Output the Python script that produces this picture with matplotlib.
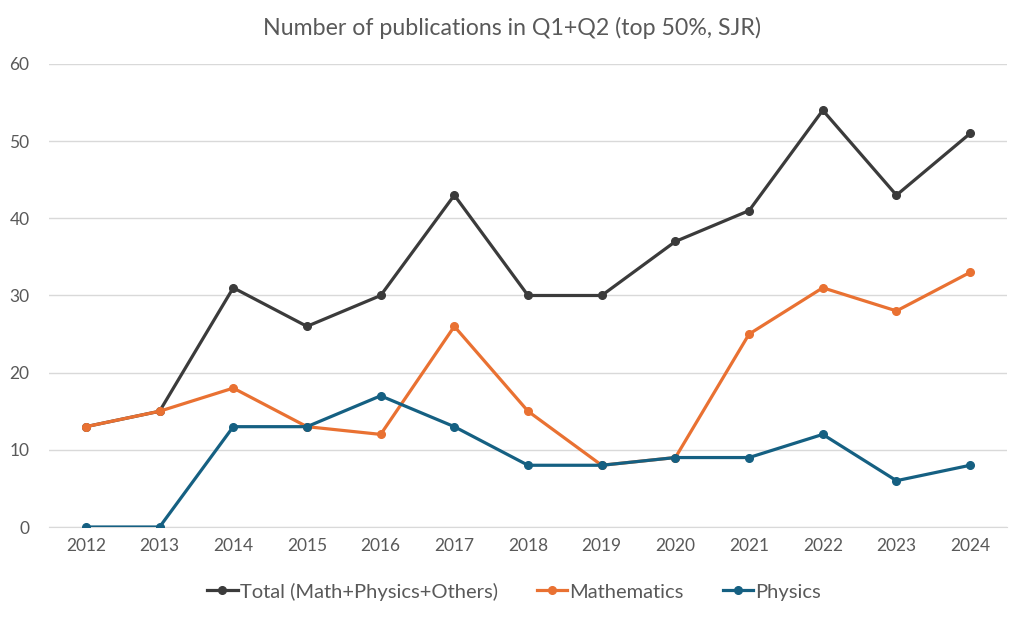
import matplotlib
matplotlib.use("Agg")
import matplotlib.pyplot as plt

years = [2012, 2013, 2014, 2015, 2016, 2017, 2018, 2019, 2020, 2021, 2022, 2023, 2024]
total = [13, 15, 31, 26, 30, 43, 30, 30, 37, 41, 54, 43, 51]
mathematics = [13, 15, 18, 13, 12, 26, 15, 8, 9, 25, 31, 28, 33]
physics = [0, 0, 13, 13, 17, 13, 8, 8, 9, 9, 12, 6, 8]
labels = ["Total (Math+Physics+Others)", "Mathematics", "Physics"]
title = "Number of publications in Q1+Q2 (top 50%, SJR)"

plt.rcParams['font.family'] = ['Lato', 'DejaVu Sans']

fig = plt.figure(figsize=(10.24, 6.2), dpi=100)
ax = fig.add_axes([0.0479, 0.15, 0.9355, 0.7468])

x = list(range(len(years)))
series = [(total, "#3b3b3b"), (mathematics, "#E97132"), (physics, "#156082")]
for (vals, col), lab in zip(series, labels):
    ax.plot(x, vals, color=col, lw=2.3, marker='o', markersize=5.5, label=lab,
            solid_joinstyle='round', zorder=3)

ax.set_xlim(-0.5, len(years) - 0.5)
ax.set_ylim(0, 60)
ax.set_yticks(range(0, 61, 10))
ax.set_xticks(x)
ax.set_xticklabels([str(y) for y in years])
ax.grid(axis='y', color='#d9d9d9', lw=1)
ax.set_axisbelow(True)
for s in ['top', 'right', 'left']:
    ax.spines[s].set_visible(False)
ax.spines['bottom'].set_color('#d9d9d9')
ax.tick_params(axis='both', length=0, labelsize=12.5, colors='#595959', pad=8)
ax.tick_params(axis='y', pad=14)

fig.text(0.5, 0.955, title, ha='center', va='center', fontsize=16.7, color='#595959')

leg = fig.legend(loc='center', bbox_to_anchor=(0.502, 0.046), ncol=3, frameon=False,
                 fontsize=14.5, handlelength=1.5, handletextpad=0.1, columnspacing=1.95,
                 labelcolor='#595959')

fig.savefig("out.png", dpi=100)
